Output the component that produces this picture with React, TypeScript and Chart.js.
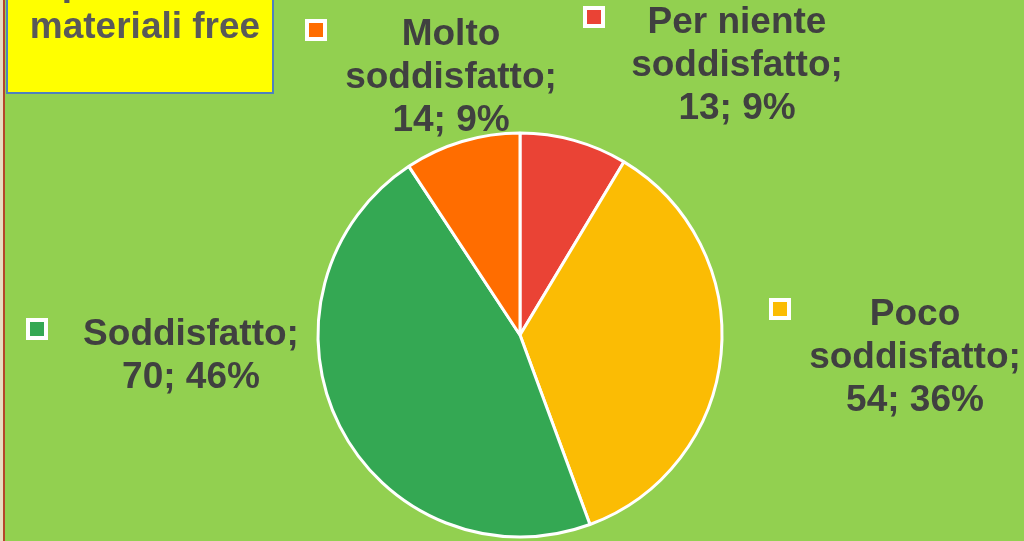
import React, { useEffect, useRef } from "react";
import { Chart, registerables } from "chart.js";

Chart.register(...registerables);

const CATEGORIES = ["Per niente soddisfatto", "Poco soddisfatto", "Soddisfatto", "Molto soddisfatto"];
const VALUES = [13, 54, 70, 14];
const COLORS = ["#EA4335", "#FBBC04", "#34A853", "#FF6D00"];
const TITLE_LINES = ["Opinione sui", "materiali free"];

// layout (label anchors: text centre x, first baseline y, marker top-left)
const LABEL_LAYOUT = [
  { cx: 737, by: 33, mx: 583, my: 6 },
  { cx: 915, by: 325, mx: 769, my: 298 },
  { cx: 191, by: 345, mx: 26, my: 318 },
  { cx: 451, by: 45, mx: 305, my: 19 },
];

const W = 1024;
const H = 541;
const FONT = 'bold 37px "Liberation Sans", Arial, sans-serif';

function labelLines(name: string, v: number, total: number): string[] {
  const pct = Math.round((v / total) * 100);
  const idx = name.lastIndexOf(" soddisfatto");
  const nameLines = idx > 0 ? [name.slice(0, idx), "soddisfatto;"] : [name + ";"];
  return [...nameLines, `${v}; ${pct}%`];
}

const decorPlugin = {
  id: "decor",
  beforeDraw(chart: any) {
    const ctx = chart.ctx as CanvasRenderingContext2D;
    ctx.save();
    ctx.fillStyle = "#92D050";
    ctx.fillRect(0, 0, W, H);
    ctx.fillStyle = "#E8DCC0";
    ctx.fillRect(0, 0, 3, H);
    ctx.fillStyle = "#B5452A";
    ctx.fillRect(3, 0, 2, H);
    ctx.restore();
  },
  afterDraw(chart: any) {
    const ctx = chart.ctx as CanvasRenderingContext2D;
    const total = VALUES.reduce((a, b) => a + b, 0);
    ctx.save();
    // title box
    ctx.fillStyle = "#FFFF00";
    ctx.fillRect(7, -5, 266, 98);
    ctx.strokeStyle = "#4F81BD";
    ctx.lineWidth = 2;
    ctx.strokeRect(7, -5, 266, 98);
    ctx.font = FONT;
    ctx.fillStyle = "#595959";
    ctx.textAlign = "center";
    ctx.textBaseline = "alphabetic";
    TITLE_LINES.forEach((t, i) => ctx.fillText(t, 145, -5 + i * 43));

    // labels
    CATEGORIES.forEach((name, i) => {
      const L = LABEL_LAYOUT[i];
      ctx.fillStyle = "#FFFFFF";
      ctx.fillRect(L.mx, L.my, 22, 22);
      ctx.fillStyle = COLORS[i];
      ctx.fillRect(L.mx + 4, L.my + 4, 14, 14);
      ctx.fillStyle = "#404040";
      ctx.font = FONT;
      ctx.textAlign = "center";
      labelLines(name, VALUES[i], total).forEach((line, j) => {
        ctx.fillText(line, L.cx, L.by + j * 43);
      });
    });
    ctx.restore();
  },
};

export default function App() {
  const ref = useRef<HTMLCanvasElement | null>(null);
  useEffect(() => {
    document.body.style.margin = "0";
    const chart = new Chart(ref.current as HTMLCanvasElement, {
      type: "pie",
      data: {
        labels: CATEGORIES,
        datasets: [
          {
            data: VALUES,
            backgroundColor: COLORS,
            borderColor: "#FFFFFF",
            borderWidth: 3,
            hoverOffset: 0,
          },
        ],
      },
      options: {
        animation: false,
        responsive: false,
        radius: 202,
        layout: { padding: { left: 16, right: 0, top: 129, bottom: 0 } },
        plugins: {
          legend: { display: false },
          tooltip: { enabled: false },
          title: { display: false },
        },
      } as any,
      plugins: [decorPlugin],
    });
    return () => chart.destroy();
  }, []);
  return (
    <div style={{ position: "fixed", left: 0, top: 0, width: W, height: H }}>
      <canvas ref={ref} width={W} height={H} style={{ width: W, height: H, display: "block" }} />
    </div>
  );
}
